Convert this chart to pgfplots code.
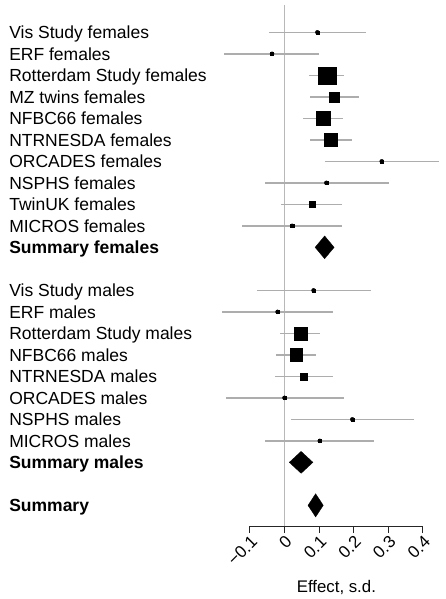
\documentclass[border=0pt]{standalone}
\usepackage{fontspec}
\setmainfont{Liberation Sans}
\usepackage{pgfplots}
\usepackage{pgfplotstable}
\pgfplotsset{compat=1.18}
\pgfplotstableread{
x y lo hi s
0.095 0 -0.045 0.235 1.6
-0.036 -1 -0.175 0.101 1.6
0.123 -2 0.072 0.172 8.6
0.144 -3 0.075 0.215 4.9
0.111 -4 0.053 0.170 6.8
0.133 -5 0.073 0.195 6.2
0.281 -6 0.118 0.447 1.4
0.121 -7 -0.057 0.302 1.4
0.079 -8 -0.009 0.166 3.1
0.022 -9 -0.122 0.165 1.6
0.084 -12 -0.080 0.250 1.6
-0.020 -13 -0.180 0.141 1.6
0.046 -14 -0.012 0.103 6.6
0.033 -15 -0.025 0.092 6.2
0.056 -16 -0.027 0.139 3.5
0.000 -17 -0.169 0.171 1.4
0.196 -18 0.020 0.373 1.4
0.102 -19 -0.057 0.259 1.6
}\studies
\begin{document}
\begin{tikzpicture}
\useasboundingbox (-249.9pt,-73pt) rectangle (196.1pt,526pt);
\begin{axis}[
  at={(0,0)}, anchor=south west,
  scale only axis, width=173pt, height=521pt,
  xmin=-0.1, xmax=0.4, ymin=-22.96, ymax=1.27,
  clip=false,
  axis x line=bottom, axis y line=none,
  axis line style={-, line width=1pt, black!85},
  xtick={-0.1,0,0.1,0.2,0.3,0.4},
  xticklabels={−0.1,0,0.1,0.2,0.3,0.4},
  tick align=outside, major tick length=7pt,
  xtick style={line width=1pt, black!85},
  xticklabel style={rotate=45, anchor=north east, font=\fontsize{17}{18}\selectfont, inner sep=1pt},
  xlabel={Effect, s.d.},
  xlabel style={at={(axis description cs:0.5,0)}, anchor=base, yshift=-66pt, font=\fontsize{16.8}{18}\selectfont},
]
% reference line at zero
\addplot[black!28, line width=1.6pt, no marks] coordinates {(0,1.27) (0,-22.96)};
% confidence intervals
\addplot[only marks, mark=none,
  error bars/.cd, x dir=both, x explicit, error mark=none,
  error bar style={line width=1.6pt, black!32}]
  table[x=x, y=y, x error plus expr=\thisrow{hi}-\thisrow{x}, x error minus expr=\thisrow{x}-\thisrow{lo}] \studies;
% study estimates, square size by weight
\addplot[only marks, mark=square*, black,
  mark options={line width=0.3pt},
  visualization depends on={\thisrow{s} \as \ms},
  scatter, scatter/use mapped color={draw=black, fill=black},
  scatter/@pre marker code/.append style={/tikz/mark size=\ms}]
  table[x=x, y=y] \studies;
% summary diamonds
\addplot[fill=black, draw=black, line width=0.3pt] coordinates {(0.0885,-10) (0.116,-9.47) (0.1435,-10) (0.116,-10.53)} --cycle;
\addplot[fill=black, draw=black, line width=0.3pt] coordinates {(0.0138,-20) (0.048,-19.49) (0.0822,-20) (0.048,-20.51)} --cycle;
\addplot[fill=black, draw=black, line width=0.3pt] coordinates {(0.0679,-22) (0.090,-21.46) (0.1121,-22) (0.090,-22.54)} --cycle;
% labels
\begin{scope}[every node/.style={anchor=base west, yshift=-6.5pt, inner sep=0pt, font=\fontsize{17.5}{21}\selectfont}]
\node at (axis cs:-0.796,0) {Vis Study females};
\node at (axis cs:-0.796,-1) {ERF females};
\node at (axis cs:-0.796,-2) {Rotterdam Study females};
\node at (axis cs:-0.796,-3) {MZ twins females};
\node at (axis cs:-0.796,-4) {NFBC66 females};
\node at (axis cs:-0.796,-5) {NTRNESDA females};
\node at (axis cs:-0.796,-6) {ORCADES females};
\node at (axis cs:-0.796,-7) {NSPHS females};
\node at (axis cs:-0.796,-8) {TwinUK females};
\node at (axis cs:-0.796,-9) {MICROS females};
\node at (axis cs:-0.796,-10) {\bfseries Summary females};
\node at (axis cs:-0.796,-12) {Vis Study males};
\node at (axis cs:-0.796,-13) {ERF males};
\node at (axis cs:-0.796,-14) {Rotterdam Study males};
\node at (axis cs:-0.796,-15) {NFBC66 males};
\node at (axis cs:-0.796,-16) {NTRNESDA males};
\node at (axis cs:-0.796,-17) {ORCADES males};
\node at (axis cs:-0.796,-18) {NSPHS males};
\node at (axis cs:-0.796,-19) {MICROS males};
\node at (axis cs:-0.796,-20) {\bfseries Summary males};
\node at (axis cs:-0.796,-22) {\bfseries Summary};
\end{scope}
\end{axis}
\end{tikzpicture}
\end{document}
